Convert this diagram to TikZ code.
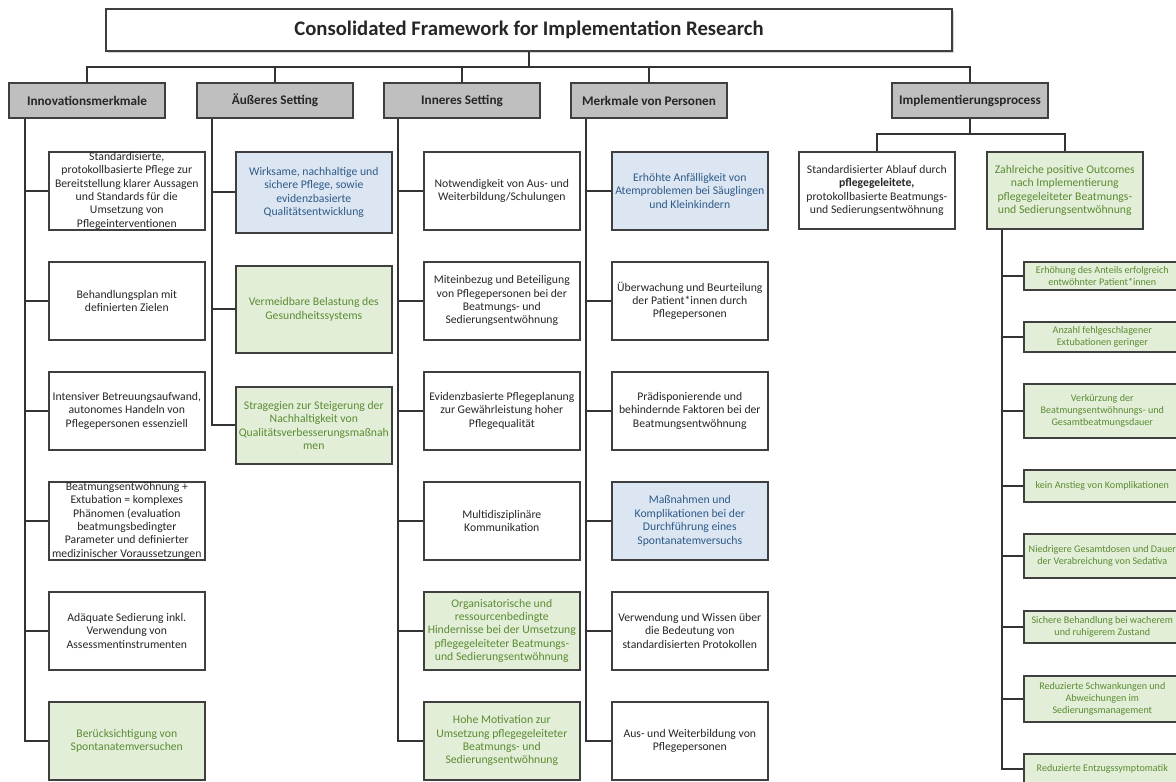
\documentclass[tikz,border=0pt]{standalone}
\usepackage{fontspec}
\setmainfont{Carlito}
\usetikzlibrary{shadows}

\definecolor{boxline}{HTML}{3F3F3F}
\definecolor{linecol}{HTML}{333333}
\definecolor{catfill}{HTML}{BFBFBF}
\definecolor{bluefill}{HTML}{DCE6F2}
\definecolor{bluetext}{HTML}{2E5A88}
\definecolor{greenfill}{HTML}{E3EED8}
\definecolor{greentext}{HTML}{5A8C32}
\definecolor{darktext}{HTML}{262626}

\begin{document}
\begin{tikzpicture}[x=1pt, y=-1pt,
    link/.style={draw=linecol, line width=1.8pt},
    head/.style={draw=boxline, line width=2.6pt, fill=white, minimum width=846pt, minimum height=42pt,
        font=\fontsize{20.7}{24}\selectfont\bfseries, text=darktext,
        drop shadow={shadow xshift=1.5pt, shadow yshift=-1.5pt, opacity=0.35, fill=gray}},
    cat/.style={draw=boxline, line width=1.8pt, fill=catfill, minimum width=156pt, minimum height=35pt,
        inner sep=0pt, font=\fontsize{13.2}{15}\selectfont\bfseries, text=darktext,
        drop shadow={shadow xshift=1.2pt, shadow yshift=-1.2pt, opacity=0.3, fill=gray}},
    item/.style={draw=boxline, line width=1.6pt, fill=white, anchor=north west, align=center,
        minimum width=156pt, minimum height=78pt, inner xsep=0pt, inner ysep=0pt,
        font=\fontsize{11.7}{13.4}\selectfont, text=darktext,
        drop shadow={shadow xshift=1.2pt, shadow yshift=-1.2pt, opacity=0.3, fill=gray}},
    bluebox/.style={item, fill=bluefill, text=bluetext},
    greenbox/.style={item, fill=greenfill, text=greentext},
    outcome/.style={greenbox, minimum width=157pt, font=\fontsize{10.1}{11.7}\selectfont}
]
\useasboundingbox (0,0) rectangle (1176,782);

% Title and domains
\node[head] (title) at (529,30) {Consolidated Framework for Implementation Research};

\node[cat] (inno)  at (87,100.5)  {Innovationsmerkmale};
\node[cat] (outer) at (275,100.5) {Äußeres Setting};
\node[cat] (inner) at (462,100.5) {Inneres Setting};
\node[cat] (pers)  at (649,100.5) {Merkmale von Personen};
\node[cat] (impl)  at (970,100.5) {Implementierungsprocess};

\coordinate (bus) at (529,67);
\draw[link] (title.south) -- (bus);
\draw[link] (inno.north) |- (bus);
\draw[link] (outer.north) |- (bus);
\draw[link] (inner.north) |- (bus);
\draw[link] (pers.north) |- (bus);
\draw[link] (impl.north) |- (bus);

% Innovationsmerkmale
\node[item] (inno1) at (48,151) {Standardisierte,\\protokollbasierte Pflege zur\\Bereitstellung klarer Aussagen\\und Standards für die\\Umsetzung von\\Pflegeinterventionen};
\node[item] (inno2) at (48,261) {Behandlungsplan mit\\definierten Zielen};
\node[item] (inno3) at (48,371) {Intensiver Betreuungsaufwand,\\autonomes Handeln von\\Pflegepersonen essenziell};
\node[item] (inno4) at (48,481) {Beatmungsentwöhnung +\\Extubation = komplexes\\Phänomen (evaluation\\beatmungsbedingter\\Parameter und definierter\\medizinischer Voraussetzungen};
\node[item] (inno5) at (48,591) {Adäquate Sedierung inkl.\\Verwendung von\\Assessmentinstrumenten};
\node[greenbox] (inno6) at (48,701) {Berücksichtigung von\\Spontanatemversuchen};

\draw[link] ([xshift=17pt]inno.south west) |- (inno1.west);
\draw[link] ([xshift=17pt]inno.south west) |- (inno2.west);
\draw[link] ([xshift=17pt]inno.south west) |- (inno3.west);
\draw[link] ([xshift=17pt]inno.south west) |- (inno4.west);
\draw[link] ([xshift=17pt]inno.south west) |- (inno5.west);
\draw[link] ([xshift=17pt]inno.south west) |- (inno6.west);

% Äußeres Setting
\node[bluebox, minimum height=81pt] (outer1) at (235,151) {Wirksame, nachhaltige und\\sichere Pflege, sowie\\evidenzbasierte\\Qualitätsentwicklung};
\node[greenbox, minimum height=87pt] (outer2) at (235,265) {Vermeidbare Belastung des\\Gesundheitssystems};
\node[greenbox, minimum height=77pt] (outer3) at (235,386) {Stragegien zur Steigerung der\\Nachhaltigkeit von\\Qualitätsverbesserungsmaßnah\\men};

\draw[link] ([xshift=16pt]outer.south west) |- (outer1.west);
\draw[link] ([xshift=16pt]outer.south west) |- (outer2.west);
\draw[link] ([xshift=16pt]outer.south west) |- (outer3.west);

% Inneres Setting
\node[item] (inner1) at (423,151) {Notwendigkeit von Aus- und\\Weiterbildung/Schulungen};
\node[item] (inner2) at (423,261) {Miteinbezug und Beteiligung\\von Pflegepersonen bei der\\Beatmungs- und\\Sedierungsentwöhnung};
\node[item] (inner3) at (423,371) {Evidenzbasierte Pflegeplanung\\zur Gewährleistung hoher\\Pflegequalität};
\node[item] (inner4) at (423,481) {Multidisziplinäre\\Kommunikation};
\node[greenbox] (inner5) at (423,591) {Organisatorische und\\ressourcenbedingte\\Hindernisse bei der Umsetzung\\pflegegeleiteter Beatmungs-\\und Sedierungsentwöhnung};
\node[greenbox] (inner6) at (423,701) {Hohe Motivation zur\\Umsetzung pflegegeleiteter\\Beatmungs- und\\Sedierungsentwöhnung};

\draw[link] ([xshift=15pt]inner.south west) |- (inner1.west);
\draw[link] ([xshift=15pt]inner.south west) |- (inner2.west);
\draw[link] ([xshift=15pt]inner.south west) |- (inner3.west);
\draw[link] ([xshift=15pt]inner.south west) |- (inner4.west);
\draw[link] ([xshift=15pt]inner.south west) |- (inner5.west);
\draw[link] ([xshift=15pt]inner.south west) |- (inner6.west);

% Merkmale von Personen
\node[bluebox] (pers1) at (611,151) {Erhöhte Anfälligkeit von\\Atemproblemen bei Säuglingen\\und Kleinkindern};
\node[item] (pers2) at (611,261) {Überwachung und Beurteilung\\der Patient*innen durch\\Pflegepersonen};
\node[item] (pers3) at (611,371) {Prädisponierende und\\behindernde Faktoren bei der\\Beatmungsentwöhnung};
\node[bluebox] (pers4) at (611,481) {Maßnahmen und\\Komplikationen bei der\\Durchführung eines\\Spontanatemversuchs};
\node[item] (pers5) at (611,591) {Verwendung und Wissen über\\die Bedeutung von\\standardisierten Protokollen};
\node[item] (pers6) at (611,701) {Aus- und Weiterbildung von\\Pflegepersonen};

\draw[link] ([xshift=16pt]pers.south west) |- (pers1.west);
\draw[link] ([xshift=16pt]pers.south west) |- (pers2.west);
\draw[link] ([xshift=16pt]pers.south west) |- (pers3.west);
\draw[link] ([xshift=16pt]pers.south west) |- (pers4.west);
\draw[link] ([xshift=16pt]pers.south west) |- (pers5.west);
\draw[link] ([xshift=16pt]pers.south west) |- (pers6.west);

% Implementierungsprocess
\node[item, minimum height=77pt] (std) at (798,151) {Standardisierter Ablauf durch\\{\bfseries pflegegeleitete,}\\protokollbasierte Beatmungs-\\und Sedierungsentwöhnung};
\node[greenbox, minimum height=77pt] (gain) at (986,151) {Zahlreiche positive Outcomes\\nach Implementierung\\pflegegeleiteter Beatmungs-\\und Sedierungsentwöhnung};

\coordinate (ibus) at (970,134);
\draw[link] (impl.south) -- (ibus);
\draw[link] (std.north) |- (ibus);
\draw[link] (gain.north) |- (ibus);

% Outcomes
\node[outcome, minimum height=28pt] (out1) at (1023,261) {Erhöhung des Anteils erfolgreich\\entwöhnter Patient*innen};
\node[outcome, minimum height=30pt] (out2) at (1023,321) {Anzahl fehlgeschlagener\\Extubationen geringer};
\node[outcome, minimum height=54pt] (out3) at (1023,383) {Verkürzung der\\Beatmungsentwöhnungs- und\\Gesamtbeatmungsdauer};
\node[outcome, minimum height=32pt] (out4) at (1023,469) {kein Anstieg von Komplikationen};
\node[outcome, minimum height=44pt] (out5) at (1023,533) {Niedrigere Gesamtdosen und Dauer\\der Verabreichung von Sedativa};
\node[outcome, minimum height=32pt] (out6) at (1023,610) {Sichere Behandlung bei wacherem\\und ruhigerem Zustand};
\node[outcome, minimum height=46pt] (out7) at (1023,675) {Reduzierte Schwankungen und\\Abweichungen im\\Sedierungsmanagement};
\node[outcome, minimum height=30pt] (out8) at (1023,753) {Reduzierte Entzugssymptomatik};

\draw[link] ([xshift=16pt]gain.south west) |- (out1.west);
\draw[link] ([xshift=16pt]gain.south west) |- (out2.west);
\draw[link] ([xshift=16pt]gain.south west) |- (out3.west);
\draw[link] ([xshift=16pt]gain.south west) |- (out4.west);
\draw[link] ([xshift=16pt]gain.south west) |- (out5.west);
\draw[link] ([xshift=16pt]gain.south west) |- (out6.west);
\draw[link] ([xshift=16pt]gain.south west) |- (out7.west);
\draw[link] ([xshift=16pt]gain.south west) |- (out8.west);
\end{tikzpicture}
\end{document}
